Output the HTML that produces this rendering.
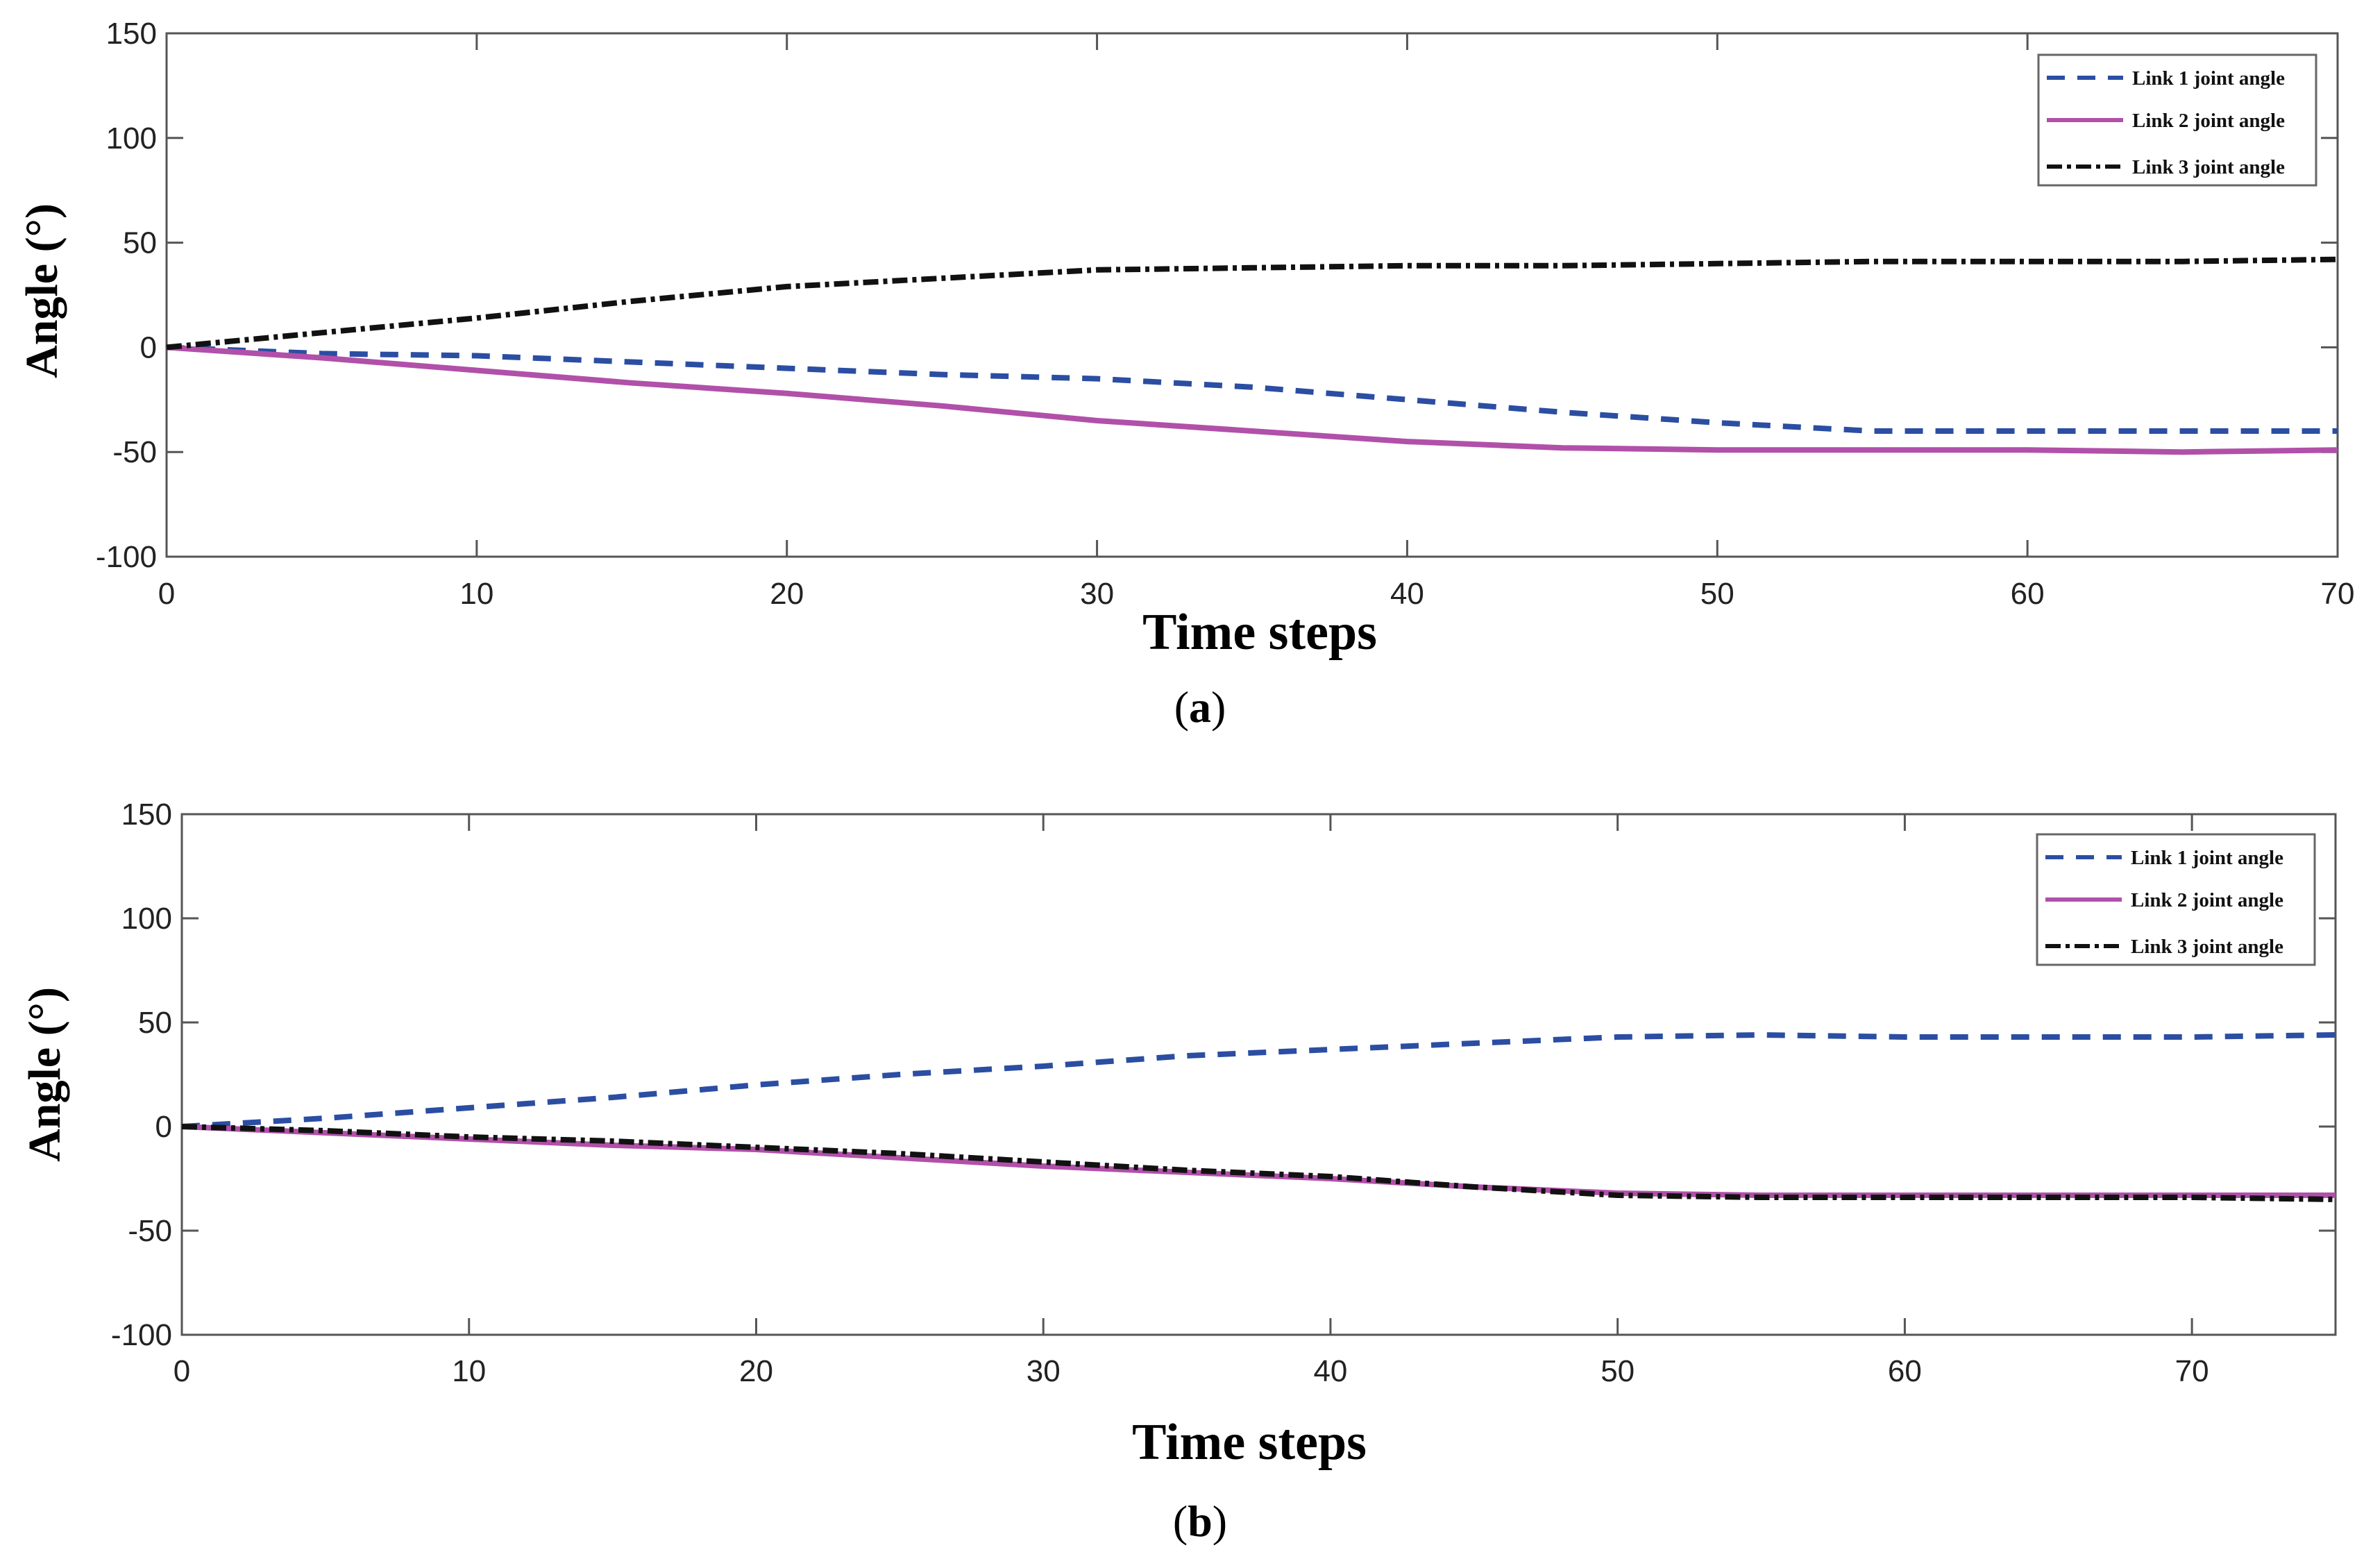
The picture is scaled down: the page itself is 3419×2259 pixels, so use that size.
<!DOCTYPE html>
<html><head><meta charset="utf-8"><style>
html,body{margin:0;padding:0;background:#fff}
svg{display:block}
</style></head><body>
<svg id="chart" width="3419" height="2259" viewBox="0 0 3419 2259" xmlns="http://www.w3.org/2000/svg"></svg>
<script>
const xA = [0,5,10,15,20,25,30,35,40,45,50,55,60,65,70];
const a1 = [0,-3,-4,-7,-10,-13,-15,-19,-25,-31,-36,-40,-40,-40,-40];
const a2 = [0,-5,-11,-17,-22,-28,-35,-40,-45,-48,-49,-49,-49,-50,-49];
const a3 = [0,7,14,22,29,33,37,38,39,39,40,41,41,41,42];
const xB = [0,5,10,15,20,25,30,35,40,45,50,55,60,65,70,75];
const b1 = [0,4,9,14,20,25,29,34,37,40,43,44,43,43,43,44];
const b2 = [0,-3,-6,-9,-11,-15,-19,-22,-25,-29,-32,-33,-33,-33,-33,-33];
const b3 = [0,-2,-5,-7,-10,-13,-17,-21,-24,-29,-33,-34,-34,-34,-34,-35];
const yTicks = [-100,-50,0,50,100,150];
const xTicksA = [0,10,20,30,40,50,60,70];
const xTicksB = [0,10,20,30,40,50,60,70];
const seriesNames = ["Link 1 joint angle","Link 2 joint angle","Link 3 joint angle"];

const NS="http://www.w3.org/2000/svg";
const svg=document.getElementById('chart');
function mk(tag,attrs,parent){const e=document.createElementNS(NS,tag);for(const k in attrs)e.setAttribute(k,attrs[k]);(parent||svg).appendChild(e);return e;}
const styles=[
 {stroke:"#2b4ea3",dash:"26 18",w:8},
 {stroke:"#b150a9",dash:"",w:8},
 {stroke:"#111",dash:"22 7 6 7",w:8}
];
function panel(cfg){
  const g=mk('g',{});
  
  
  const L=cfg.L,R=cfg.R,T=cfg.T,B=cfg.B;
  const sx=v=>L+(v-cfg.xmin)/(cfg.xmax-cfg.xmin)*(R-L);
  const sy=v=>B-(v+100)/250*(B-T);
  const frame=mk('rect',{x:L,y:T,width:R-L,height:B-T,fill:'none',stroke:'#555','stroke-width':3},g);
  
  
  cfg.xt.forEach(v=>{
    const x=sx(v);
    const t1=mk('line',{x1:x,y1:B,x2:x,y2:B-24,stroke:'#555','stroke-width':3},g);
    
    
    mk('line',{x1:x,y1:T,x2:x,y2:T+24,stroke:'#555','stroke-width':3},g);
    const tx=mk('text',{x:x,y:cfg.xlY,'font-family':'Liberation Sans, sans-serif','font-size':44,'text-anchor':'middle',fill:'#222'},g);
    tx.textContent=v;
    
    
  });
  yTicks.forEach(v=>{
    const y=sy(v);
    const t1=mk('line',{x1:L,y1:y,x2:L+24,y2:y,stroke:'#555','stroke-width':3},g);
    
    
    mk('line',{x1:R,y1:y,x2:R-24,y2:y,stroke:'#555','stroke-width':3},g);
    const tx=mk('text',{x:L-14,y:y+15,'font-family':'Liberation Sans, sans-serif','font-size':44,'text-anchor':'end',fill:'#222'},g);
    tx.textContent=v;
    
    
  });
  cfg.series.forEach((s,i)=>{
    const d=s.map((v,j)=>(j?'L':'M')+sx(cfg.xs[j]).toFixed(1)+' '+sy(v).toFixed(1)).join(' ');
    const p=mk('path',{d:d,fill:'none',stroke:styles[i].stroke,'stroke-width':styles[i].w,'stroke-dasharray':styles[i].dash,'stroke-linejoin':'round'},g);
    
    
  });
  const xl=mk('text',{x:cfg.xtX,y:cfg.xtY,'font-family':'Liberation Serif, serif','font-size':74,'font-weight':'bold','text-anchor':'middle',fill:'#000'},g);
  xl.textContent='Time steps';
  
  
  const yl=mk('text',{x:0,y:0,transform:`translate(${cfg.ytX},${cfg.ytY}) rotate(-90)`,'font-family':'Liberation Serif, serif','font-size':66,'font-weight':'bold','text-anchor':'middle',fill:'#000'},g);
  yl.textContent='Angle (°)';
  
  
  const cap=mk('text',{x:1729,y:cfg.capY,'font-family':'Liberation Serif, serif','font-size':64,'text-anchor':'middle',fill:'#000'},g);
  cap.innerHTML='(<tspan font-weight="bold">'+cfg.cap+'</tspan>)';
  
  
  const lg=mk('g',{},g);
  
  
  mk('rect',{x:cfg.lgX,y:cfg.lgY,width:400,height:188,fill:'#fff',stroke:'#666','stroke-width':3},lg);
  const rows=[33,94,161];
  seriesNames.forEach((n,i)=>{
    const y=cfg.lgY+rows[i];
    const ln=mk('line',{x1:cfg.lgX+12,y1:y,x2:cfg.lgX+122,y2:y,stroke:styles[i].stroke,'stroke-width':6,'stroke-dasharray':styles[i].dash},lg);
    
    
    const t=mk('text',{x:cfg.lgX+135,y:y+10,'font-family':'Liberation Serif, serif','font-size':29,'font-weight':'bold',fill:'#111'},lg);
    t.textContent=n;
    
    
  });
}
panel({name:'panel-a',L:240,R:3368,T:48,B:802,xmin:0,xmax:70,xs:xA,series:[a1,a2,a3],xt:xTicksA,xlY:870,
  xtX:1815,xtY:935,ytX:82,ytY:419,capY:1040,cap:'a',lgX:2937,lgY:79});
panel({name:'panel-b',L:262,R:3365,T:1173,B:1923,xmin:0,xmax:75,xs:xB,series:[b1,b2,b3],xt:xTicksB,xlY:1990,
  xtX:1800,xtY:2102,ytX:86,ytY:1548,capY:2213,cap:'b',lgX:2935,lgY:1202});
</script>
</body></html>
